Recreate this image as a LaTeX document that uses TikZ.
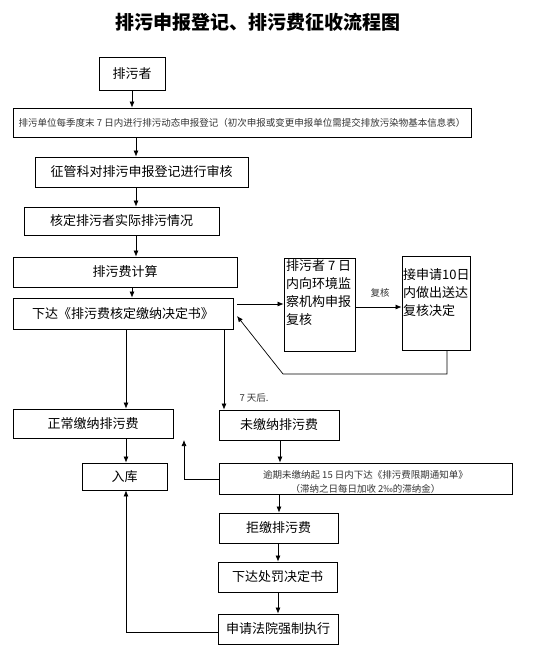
\documentclass[tikz,border=0pt]{standalone}
\usepackage{fontspec}
\setmainfont{Noto Sans CJK SC}
\usetikzlibrary{arrows.meta}
\tikzset{
  box/.style={draw=black, line width=0.8pt, inner sep=0pt, font=\fontsize{13}{16}\selectfont},
  small/.style={font=\fontsize{9.5}{12}\selectfont, text=black!80},
  arr/.style={draw=black, line width=0.7pt, -{Latex[length=6pt,width=5pt]}},
  ln/.style={draw=black, line width=0.7pt},
  txt/.style={inner sep=0pt, align=left, font=\fontsize{13}{18}\selectfont, anchor=north west}
}
\begin{document}
\begin{tikzpicture}[x=1pt,y=-1pt]
\useasboundingbox (0,0) rectangle (541,664);
\node[font=\fontsize{19}{22}\selectfont\bfseries] (title) at (258,22) {排污申报登记、排污费征收流程图};

\node[box, minimum width=66pt, minimum height=33pt] (p0) at (132,73.5) {排污者};
\node[box, minimum width=458pt, minimum height=29pt, small] (p1) at (242,122.5) {排污单位每季度末 7 日内进行排污动态申报登记（初次申报或变更申报单位需提交排放污染物基本信息表）};
\node[box, minimum width=213pt, minimum height=30pt] (p2) at (141.5,172) {征管科对排污申报登记进行审核};
\node[box, minimum width=195pt, minimum height=28pt] (p3) at (121.5,221) {核定排污者实际排污情况};
\node[box, minimum width=224pt, minimum height=30pt] (p4) at (125,272) {排污费计算};
\node[box, minimum width=220pt, minimum height=31pt] (p5) at (123,313.5) {下达《排污费核定缴纳决定书》};

\node[box, minimum width=71pt, minimum height=93pt] (r1) at (319.5,304.5) {};
\node[txt] (r1t) at (286,259) {排污者 7 日\\内向环境监\\察机构申报\\复核};
\node[box, minimum width=68pt, minimum height=94pt] (r2) at (436,303) {};
\node[txt] (r2t) at (403,268) {接申请10日\\内做出送达\\复核决定};

\node[box, minimum width=160pt, minimum height=29pt] (n1) at (93,423.5) {正常缴纳排污费};
\node[box, minimum width=120pt, minimum height=30pt] (u1) at (279,425) {未缴纳排污费};
\node[box, minimum width=85pt, minimum height=27pt] (k) at (124.5,476.5) {入库};
\node[box, minimum width=293pt, minimum height=31pt] (nt) at (365.5,478.5) {};
\node[small, align=center, font=\fontsize{9.5}{14}\selectfont] (ntt) at (365.5,481.5) {逾期未缴纳起 15 日内下达《排污费限期通知单》\\（滞纳之日每日加收 2‰的滞纳金）};
\node[box, minimum width=119pt, minimum height=30pt] (j) at (278.5,528) {拒缴排污费};
\node[box, minimum width=119pt, minimum height=30pt] (cf) at (277.5,577) {下达处罚决定书};
\node[box, minimum width=120pt, minimum height=30pt] (fy) at (278,629) {申请法院强制执行};

\node[small] (lb1) at (380,293) {复核};
\node[small, anchor=west] (lb2) at (236,398) {7 天后.};

% helper coordinates for vertical positions
\coordinate (c132) at (132,0);
\coordinate (c136) at (136,0);
\coordinate (c126) at (126,0);
\coordinate (c224) at (224,0);
\coordinate (c280) at (280,0);
\coordinate (c279) at (279,0);
\coordinate (c278) at (278,0);
\coordinate (c447) at (447,0);
\coordinate (y304) at (0,304);
\coordinate (y307) at (0,307);

\draw[arr] (p0.south -| c132) -- (p1.north -| c132);
\draw[arr] (p1.south -| c136) -- (p2.north -| c136);
\draw[arr] (p2.south -| c136) -- (p3.north -| c136);
\draw[arr] (p3.south -| c136) -- (p4.north -| c136);
\draw[arr] (p4.south -| c132) -- (p5.north -| c132);

\draw[arr] (p5.east |- y304) ++(4,0) -- (r1.west |- y304);
\draw[arr] (r1.east |- y307) -- (r2.west |- y307);
\coordinate (b1) at (447,374);
\coordinate (b2) at (283,374);
\coordinate (b3) at (237,316);
\draw[arr] (r2.south -| c447) -- (b1) -- (b2) -- (b3);

\draw[arr] (p5.south -| c126) -- (n1.north -| c126);
\draw[arr] (p5.south -| c224) -- (u1.north -| c224);
\draw[arr] (n1.south -| c126) -- (k.north -| c126);
\draw[arr] (u1.south -| c280) -- (nt.north -| c280);

\coordinate (d1) at (184,479);
\coordinate (d2) at (184,440);
\draw[arr] (nt.west |- d1) -- (d1) -- (d2);

\draw[arr] (nt.south -| c279) -- (j.north -| c279);
\draw[arr] (j.south -| c278) -- (cf.north -| c278);
\draw[arr] (cf.south -| c278) -- (fy.north -| c278);

\coordinate (e1) at (126,632);
\draw[arr] (fy.west |- e1) -- (e1) -- (k.south -| c126);
\end{tikzpicture}
\end{document}
